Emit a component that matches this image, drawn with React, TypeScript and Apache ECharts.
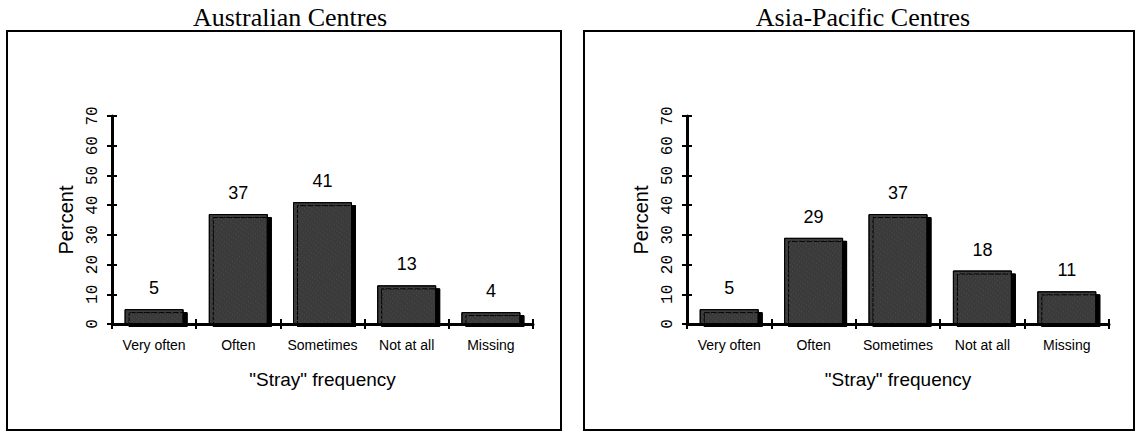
import React, { useEffect, useRef } from "react";
import * as echarts from "echarts";

const categories = ["Very often", "Often", "Sometimes", "Not at all", "Missing"];
const australian = [5, 37, 41, 13, 4];
const asiaPacific = [5, 29, 37, 18, 11];
const panelTitles = ["Australian Centres", "Asia-Pacific Centres"];
const xAxisTitle = '"Stray" frequency';
const yAxisTitle = "Percent";
const yMin = 0;
const yMax = 70;
const yStep = 10;

const SANS = "'Liberation Sans', Arial, sans-serif";
const SERIF = "'Liberation Serif', 'Times New Roman', serif";
const MONO = "'Liberation Mono', 'Courier New', monospace";

export default function App() {
  const ref = useRef<HTMLDivElement>(null);

  useEffect(() => {
    if (!ref.current) return;
    const chart = echarts.init(ref.current, undefined, { renderer: "svg" });

    const grids = [
      { left: 112, top: 116, width: 421, height: 208 },
      { left: 687, top: 116, width: 422, height: 208 },
    ];
    const datasets = [australian, asiaPacific];

    const xAxis: any[] = [];
    const yAxis: any[] = [];
    const series: any[] = [];

    grids.forEach((_, g) => {
      xAxis.push({
        type: "category",
        gridIndex: g,
        data: categories,
        position: "bottom",
        z: 5,
        axisLine: { lineStyle: { color: "#000", width: 3 } },
        axisTick: { show: true, length: 5, lineStyle: { color: "#000", width: 2 } },
        axisLabel: { interval: 0, fontSize: 14, color: "#000", margin: 14, fontFamily: SANS },
        name: xAxisTitle,
        nameLocation: "middle",
        nameGap: 46,
        nameTextStyle: { fontSize: 19, color: "#000", fontFamily: SANS },
      });
      xAxis.push({
        type: "category",
        gridIndex: g,
        data: categories,
        position: "bottom",
        offset: 0,
        z: 5,
        axisLine: { show: false },
        axisTick: { show: true, inside: true, length: 5, lineStyle: { color: "#000", width: 2 } },
        axisLabel: { show: false },
      });
      yAxis.push({
        type: "value",
        gridIndex: g,
        min: yMin,
        max: yMax,
        interval: yStep,
        position: "left",
        z: 5,
        axisLine: { show: true, lineStyle: { color: "#000", width: 3 } },
        axisTick: { show: true, length: 5, lineStyle: { color: "#000", width: 2 } },
        axisLabel: { rotate: 90, fontSize: 16, color: "#000", margin: 11, fontFamily: MONO },
        splitLine: { show: false },
        name: yAxisTitle,
        nameLocation: "middle",
        nameRotate: 90,
        nameGap: 36,
        nameTextStyle: { fontSize: 20, color: "#000", fontFamily: SANS },
      });
      yAxis.push({
        type: "value",
        gridIndex: g,
        min: yMin,
        max: yMax,
        interval: yStep,
        position: "left",
        offset: 0,
        axisLine: { show: false },
        axisTick: { show: true, inside: true, length: 5, lineStyle: { color: "#000", width: 2 } },
        axisLabel: { show: false },
        splitLine: { show: false },
      });
      series.push({
        type: "bar",
        xAxisIndex: g * 2,
        yAxisIndex: g * 2,
        data: datasets[g],
        barWidth: 59,
        itemStyle: {
          color: "#3a3a3a",
          borderColor: "#000",
          borderWidth: 1,
          shadowColor: "#000",
          shadowOffsetX: 4,
          shadowOffsetY: 3,
          shadowBlur: 0,
          decal: {
            symbol: "rect",
            symbolSize: 0.5,
            color: "rgba(190,190,190,0.45)",
            dashArrayX: [1, 2],
            dashArrayY: [1, 3],
            rotation: 0.6,
          },
        },
        label: {
          show: true,
          position: "top",
          distance: 12,
          fontSize: 18,
          color: "#000",
          fontFamily: SANS,
        },
      });
    });

    chart.setOption({
      animation: false,
      backgroundColor: "#fff",
      grid: grids,
      xAxis,
      yAxis,
      series,
      graphic: [
        {
          type: "rect",
          shape: { x: 7, y: 31, width: 554, height: 399 },
          style: { fill: "none", stroke: "#000", lineWidth: 2 },
        },
        {
          type: "rect",
          shape: { x: 584, y: 31, width: 550, height: 399 },
          style: { fill: "none", stroke: "#000", lineWidth: 2 },
        },
        {
          type: "text",
          x: 290,
          y: 17,
          style: {
            text: panelTitles[0],
            font: `26px ${SERIF}`,
            fill: "#000",
            textAlign: "center",
            textVerticalAlign: "middle",
          },
        },
        {
          type: "text",
          x: 863,
          y: 17,
          style: {
            text: panelTitles[1],
            font: `26px ${SERIF}`,
            fill: "#000",
            textAlign: "center",
            textVerticalAlign: "middle",
          },
        },
      ],
    });

    return () => chart.dispose();
  }, []);

  return (
    <div
      ref={ref}
      style={{ position: "absolute", left: 0, top: 0, width: 1136, height: 432 }}
    />
  );
}
